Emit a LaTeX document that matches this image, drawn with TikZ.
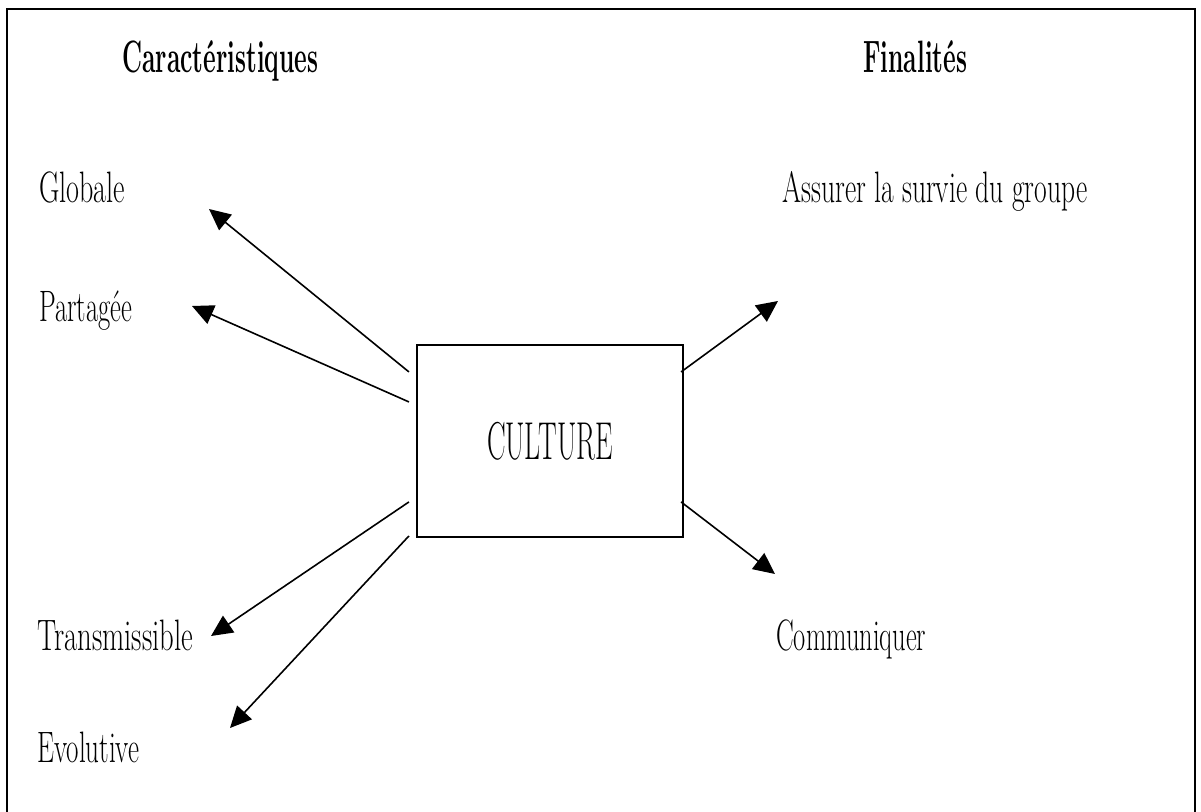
\documentclass[tikz,border=0pt]{standalone}
\usetikzlibrary{arrows.meta}
\newlength\pxu
\setlength\pxu{0.75pt}
% condensed text: squeeze horizontally to a given width (in px), keep natural height
\newcommand\narrowtext[2]{\resizebox{#1\pxu}{\height}{#2}}
\tikzset{
  lbl/.style={anchor=base west, inner sep=0pt, font=\fontsize{33}{36}\selectfont},
  headlbl/.style={anchor=base west, inner sep=0pt, font=\fontsize{34}{38}\selectfont\bfseries},
  link/.style={line width=1.2pt, -{Triangle[length=16pt,width=15pt]}},
  mainbox/.style={draw, line width=1.6pt, inner sep=0pt,
    minimum width=199.5pt, minimum height=144pt,
    font=\fontsize{40}{44}\selectfont},
}
\begin{document}
\begin{tikzpicture}[x=0.75pt,y=-0.75pt]
\useasboundingbox (0,0) rectangle (1201,812);
\fill[white] (0,0) rectangle (1201,812);
% outer frame, open at the bottom
\draw[line width=2pt] (7,812) -- (7,9) -- (1195,9) -- (1195,812);

% headings
\node[headlbl] (hcar) at (122,73) {\narrowtext{196}{Caractéristiques}};
\node[headlbl] (hfin) at (863,73) {\narrowtext{104}{Finalités}};

% central box
\node[mainbox] (culture) at (550,441) {\narrowtext{126}{CULTURE}};

% labels
\node[lbl] (glob) at (39,203) {\narrowtext{86}{Globale}};
\node[lbl] (part) at (39,321) {\narrowtext{93}{Partagée}};
\node[lbl] (trans) at (37,650) {\narrowtext{156}{Transmissible}};
\node[lbl] (evol) at (37,762) {\narrowtext{102}{Evolutive}};
\node[lbl] (surv) at (782,203) {\narrowtext{305}{Assurer la survie du groupe}};
\node[lbl] (comm) at (776,650) {\narrowtext{150}{Communiquer}};

% arrow tips
\coordinate (tglob) at (209,209);
\coordinate (tpart) at (192,306);
\coordinate (ttrans) at (211,636);
\coordinate (tevol) at (230,728);
\coordinate (tsurv) at (778,301);
\coordinate (tcomm) at (775,574);

% connectors
\draw[link] ([shift={(-7,28)}]culture.north west) -- (tglob);
\draw[link] ([shift={(-7,58)}]culture.north west) -- (tpart);
\draw[link] ([shift={(-7,158)}]culture.north west) -- (ttrans);
\draw[link] ([shift={(-7,192)}]culture.north west) -- (tevol);
\draw[link] ([shift={(-3,28)}]culture.north east) -- (tsurv);
\draw[link] ([shift={(-3,158)}]culture.north east) -- (tcomm);
\end{tikzpicture}
\end{document}
